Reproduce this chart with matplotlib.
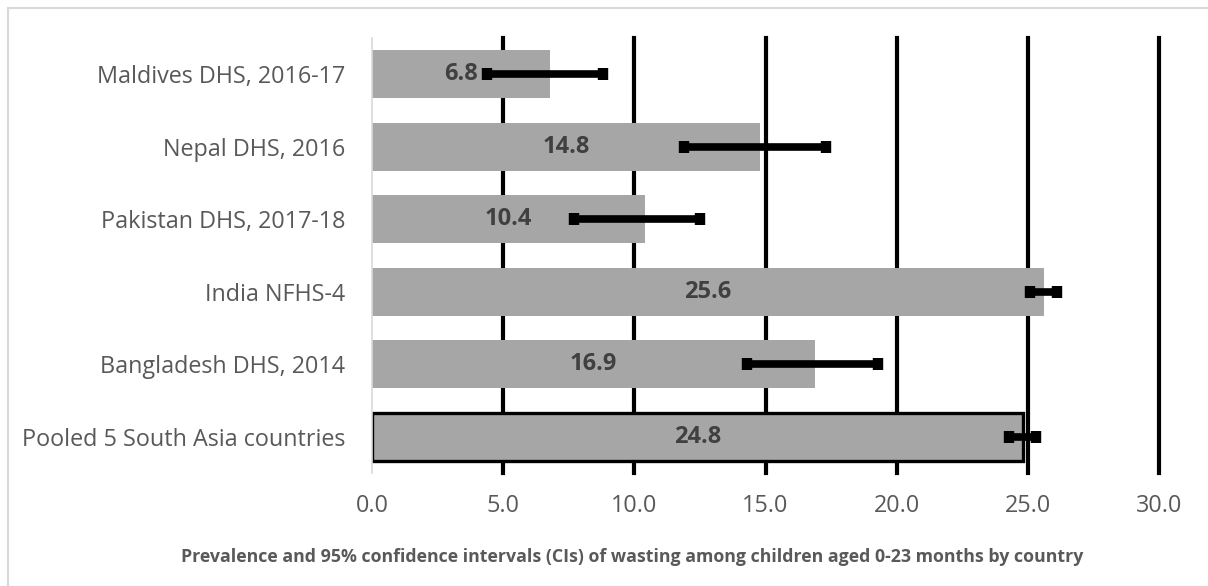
import matplotlib
matplotlib.use("Agg")
import matplotlib.pyplot as plt
from matplotlib.patches import Rectangle
import numpy as np

# wasting prevalence (%) and 95% CI, top to bottom as listed
paises = ["Maldives DHS, 2016-17", "Nepal DHS, 2016", "Pakistan DHS, 2017-18",
          "India NFHS-4", "Bangladesh DHS, 2014", "Pooled 5 South Asia countries"]
prevalencia = [6.8, 14.8, 10.4, 25.6, 16.9, 24.8]
ic_inf = [4.4, 11.9, 7.7, 25.1, 14.3, 24.3]
ic_sup = [8.8, 17.3, 12.5, 26.1, 19.3, 25.3]
ticks_x = [0, 5, 10, 15, 20, 25, 30]

plt.rcParams['font.family'] = ['Open Sans', 'DejaVu Sans']

fig = plt.figure(figsize=(12.08, 5.86), dpi=100)
ax = fig.add_axes([372/1208, 1 - 473/586, (1159 - 372)/1208, (473 - 38)/586])

# marco gris claro del grafico
fig.patches.append(Rectangle((8/1208, -0.1), 1.2, 1 - 8/586 + 0.1, transform=fig.transFigure,
                             fill=False, edgecolor="#d9d9d9", linewidth=1.5))

y = np.arange(len(paises))[::-1]
bordes = ["none"] * (len(paises) - 1) + ["black"]
barras = ax.barh(y, prevalencia, height=0.66, color="#a6a6a6", edgecolor=bordes,
                 linewidth=2.4, zorder=2)

err = [np.array(prevalencia) - np.array(ic_inf), np.array(ic_sup) - np.array(prevalencia)]
ax.errorbar(prevalencia, y, xerr=err, fmt="none", ecolor="black", elinewidth=5.5,
            capsize=4.5, capthick=7.5, zorder=4)

for yi, v in zip(y, prevalencia):
    ax.text(v / 2, yi, f"{v:.1f}", ha="center", va="center", fontsize=17,
            fontweight="bold", color="#404040", zorder=3)

ax.set_xlim(0, 30)
ax.set_ylim(-0.5, len(paises) - 0.5)
ax.set_xticks(ticks_x)
ax.set_xticklabels([f"{t:.1f}" for t in ticks_x])
ax.set_yticks(y)
ax.set_yticklabels(paises)
ax.tick_params(axis="both", length=0, labelsize=16.8, labelcolor="#595959")
ax.tick_params(axis="x", pad=15)
ax.tick_params(axis="y", pad=19)

for x in ticks_x[1:]:
    ax.axvline(x, color="black", linewidth=3, zorder=1, clip_on=False)

for s in ["top", "right", "bottom"]:
    ax.spines[s].set_visible(False)
ax.spines["left"].set_color("#d9d9d9")
ax.spines["left"].set_linewidth(1.2)

fig.text(632/1208, 1 - 557/586,
         "Prevalence and 95% confidence intervals (CIs) of wasting among children aged 0-23 months by country",
         ha="center", va="center", fontsize=12.8, fontweight="bold", color="#595959")

fig.savefig("out.png", dpi=100)
